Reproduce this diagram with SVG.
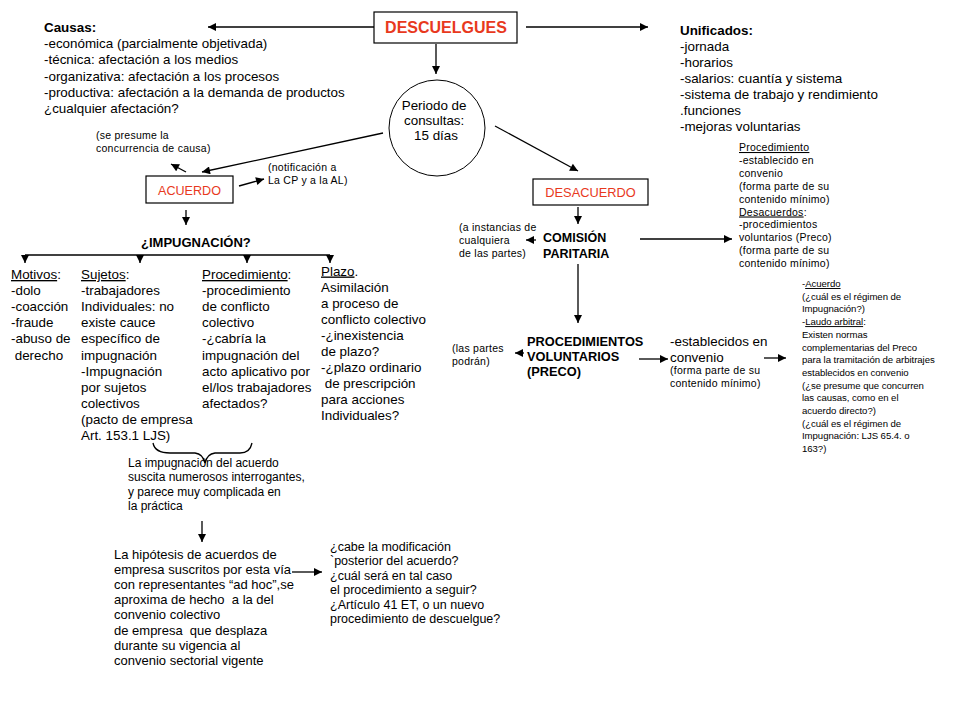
<svg xmlns="http://www.w3.org/2000/svg" width="960" height="720" viewBox="0 0 960 720">
<style>
text{font-family:"Liberation Sans",Arial,sans-serif;fill:#000}
.t{font-size:13.4px}
.s{font-size:10.5px;letter-spacing:0.25px}
.r{font-size:9.6px;letter-spacing:-0.05px}
.h{font-size:12px}
.q{font-size:12.5px}
.b{font-weight:bold}
.red{fill:#e8391d}
.u{text-decoration:underline}
.ln{stroke:#000;stroke-width:1.3;fill:none}
.bx{fill:#fff;stroke:#000;stroke-width:1.2}
</style>
<defs>
<marker id="ah" viewBox="0 0 10 10" refX="10" refY="5" markerWidth="9" markerHeight="8" markerUnits="userSpaceOnUse" orient="auto">
<path d="M0,0 L10,5 L0,10 z" fill="#000"/>
</marker>
</defs>
<rect width="960" height="720" fill="#fff"/>

<g id="connectors">
<line class="ln" x1="374" y1="27" x2="208" y2="27" marker-end="url(#ah)"/>
<line class="ln" x1="526" y1="27" x2="648" y2="27" marker-end="url(#ah)"/>
<line class="ln" x1="436" y1="44" x2="436" y2="74" marker-end="url(#ah)"/>
<line class="ln" x1="383" y1="133" x2="202" y2="172" marker-end="url(#ah)"/>
<line class="ln" x1="495" y1="126" x2="578" y2="171" marker-end="url(#ah)"/>
<line class="ln" x1="186" y1="172" x2="171" y2="164" marker-end="url(#ah)"/>
<line class="ln" x1="239" y1="186" x2="264" y2="179" marker-end="url(#ah)"/>
<line class="ln" x1="186" y1="210" x2="186" y2="225" marker-end="url(#ah)"/>
<line class="ln" x1="25" y1="255" x2="330" y2="255"/>
<line class="ln" x1="25" y1="255" x2="25" y2="263" marker-end="url(#ah)"/>
<line class="ln" x1="140" y1="255" x2="140" y2="263" marker-end="url(#ah)"/>
<line class="ln" x1="247" y1="255" x2="247" y2="263" marker-end="url(#ah)"/>
<line class="ln" x1="330" y1="255" x2="330" y2="263" marker-end="url(#ah)"/>
<line class="ln" x1="578" y1="207" x2="578" y2="224" marker-end="url(#ah)"/>
<line class="ln" x1="536" y1="240" x2="526" y2="240" marker-end="url(#ah)"/>
<line class="ln" x1="640" y1="239" x2="732" y2="239" marker-end="url(#ah)"/>
<line class="ln" x1="578" y1="264" x2="578" y2="323" marker-end="url(#ah)"/>
<line class="ln" x1="524" y1="353" x2="515" y2="353" marker-end="url(#ah)"/>
<line class="ln" x1="639" y1="359" x2="668" y2="359" marker-end="url(#ah)"/>
<line class="ln" x1="764" y1="358" x2="786" y2="358" marker-end="url(#ah)"/>
<path class="ln" d="M153,443 Q155,453 170,453 L195,453 Q203,454 205,463 Q207,454 215,453 L240,453 Q250,453 252,443" stroke-width="1.1"/>
<line class="ln" x1="202" y1="521" x2="202" y2="542" marker-end="url(#ah)"/>
<line class="ln" x1="292" y1="572" x2="322" y2="572" marker-end="url(#ah)"/>
</g>

<g id="descuelgues">
<rect class="bx" x="374" y="12" width="143" height="31"/>
<text x="446" y="33" text-anchor="middle" class="b red" font-size="16">DESCUELGUES</text>
</g>

<g id="causas">
<text class="t"><tspan class="b" x="44" y="32">Causas:</tspan>
<tspan x="44" y="48.2">-económica (parcialmente objetivada)</tspan>
<tspan x="44" y="64.4">-técnica: afectación a los medios</tspan>
<tspan x="44" y="80.6">-organizativa: afectación a los procesos</tspan>
<tspan x="44" y="96.8">-productiva: afectación a la demanda de productos</tspan>
<tspan x="44" y="113">¿cualquier afectación?</tspan></text>
</g>

<g id="unificados">
<text class="t"><tspan class="b" x="680" y="35">Unificados:</tspan>
<tspan x="680" y="51">-jornada</tspan>
<tspan x="680" y="67">-horarios</tspan>
<tspan x="680" y="83">-salarios: cuantía y sistema</tspan>
<tspan x="680" y="99">-sistema de trabajo y rendimiento</tspan>
<tspan x="680" y="115">.funciones</tspan>
<tspan x="680" y="131">-mejoras voluntarias</tspan></text>
</g>

<g id="periodo">
<circle cx="437" cy="128" r="48" fill="none" stroke="#000" stroke-width="1"/>
<text class="t" text-anchor="middle"><tspan x="436" y="110">Periodo de</tspan>
<tspan x="436" y="125">consultas:</tspan>
<tspan x="436" y="140">15 días</tspan></text>
</g>

<g id="acuerdo">
<rect class="bx" x="146" y="176" width="87" height="27"/>
<text x="189.5" y="194.5" text-anchor="middle" class="red" font-size="12.6">ACUERDO</text>
</g>

<g id="se-presume">
<text class="s"><tspan x="96" y="139">(se presume la</tspan>
<tspan x="96" y="152">concurrencia de causa)</tspan></text>
</g>

<g id="notificacion">
<text class="s"><tspan x="268" y="171">(notificación a</tspan>
<tspan x="268" y="184">La CP y a la AL)</tspan></text>
</g>

<g id="impugnacion">
<text x="141" y="247" class="b" font-size="13">¿IMPUGNACIÓN?</text>
</g>

<g id="motivos">
<text class="t"><tspan x="11" y="279"><tspan class="u">Motivos</tspan>:</tspan>
<tspan x="11" y="295.1">-dolo</tspan>
<tspan x="11" y="311.2">-coacción</tspan>
<tspan x="11" y="327.3">-fraude</tspan>
<tspan x="11" y="343.4">-abuso de</tspan>
<tspan x="11" y="359.5">&#160;derecho</tspan></text>
</g>

<g id="sujetos">
<text class="t"><tspan x="81" y="279"><tspan class="u">Sujetos</tspan>:</tspan>
<tspan x="81" y="295.1">-trabajadores</tspan>
<tspan x="81" y="311.2">Individuales: no</tspan>
<tspan x="81" y="327.3">existe cauce</tspan>
<tspan x="81" y="343.4">específico de</tspan>
<tspan x="81" y="359.5">impugnación</tspan>
<tspan x="81" y="375.6">-Impugnación</tspan>
<tspan x="81" y="391.7">por sujetos</tspan>
<tspan x="81" y="407.8">colectivos</tspan>
<tspan x="81" y="423.9">(pacto de empresa</tspan>
<tspan x="81" y="440">Art. 153.1 LJS)</tspan></text>
</g>

<g id="procedimiento">
<text class="t"><tspan x="202" y="279"><tspan class="u">Procedimiento</tspan>:</tspan>
<tspan x="202" y="295.1">-procedimiento</tspan>
<tspan x="202" y="311.2">de conflicto</tspan>
<tspan x="202" y="327.3">colectivo</tspan>
<tspan x="202" y="343.4">-¿cabría la</tspan>
<tspan x="202" y="359.5">impugnación del</tspan>
<tspan x="202" y="375.6">acto aplicativo por</tspan>
<tspan x="202" y="391.7">el/los trabajadores</tspan>
<tspan x="202" y="407.8">afectados?</tspan></text>
</g>

<g id="plazo">
<text class="t"><tspan x="321" y="275.5"><tspan class="u">Plazo</tspan>.</tspan>
<tspan x="321" y="291.6">Asimilación</tspan>
<tspan x="321" y="307.7">a proceso de</tspan>
<tspan x="321" y="323.8">conflicto colectivo</tspan>
<tspan x="321" y="339.9">-¿inexistencia</tspan>
<tspan x="321" y="356">de plazo?</tspan>
<tspan x="321" y="372.1">-¿plazo ordinario</tspan>
<tspan x="321" y="388.2">&#160;de prescripción</tspan>
<tspan x="321" y="404.3">para acciones</tspan>
<tspan x="321" y="420.4">Individuales?</tspan></text>
</g>

<g id="impugnacion-nota">
<text class="h"><tspan x="128" y="467">La impugnación del acuerdo</tspan>
<tspan x="128" y="481.3">suscita numerosos interrogantes,</tspan>
<tspan x="128" y="495.6">y parece muy complicada en</tspan>
<tspan x="128" y="510">la práctica</tspan></text>
</g>

<g id="hipotesis">
<text font-size="13"><tspan x="114" y="559">La hipótesis de acuerdos de</tspan>
<tspan x="114" y="574.1">empresa suscritos por esta vía</tspan>
<tspan x="114" y="589.2">con representantes “ad hoc”,se</tspan>
<tspan x="114" y="604.3">aproxima de hecho &#160;a la del</tspan>
<tspan x="114" y="619.4">convenio colectivo</tspan>
<tspan x="114" y="634.5">de empresa &#160;que desplaza</tspan>
<tspan x="114" y="649.6">durante su vigencia al</tspan>
<tspan x="114" y="664.7">convenio sectorial vigente</tspan></text>
</g>

<g id="cabe">
<text class="q"><tspan x="330" y="551">¿cabe la modificación</tspan>
<tspan x="330" y="565.4">`posterior del acuerdo?</tspan>
<tspan x="330" y="579.8">¿cuál será en tal caso</tspan>
<tspan x="330" y="594.2">el procedimiento a seguir?</tspan>
<tspan x="330" y="608.6">¿Artículo 41 ET, o un nuevo</tspan>
<tspan x="330" y="623">procedimiento de descuelgue?</tspan></text>
</g>

<g id="desacuerdo">
<rect class="bx" x="533" y="179" width="115" height="26"/>
<text x="590.5" y="196.5" text-anchor="middle" class="red" font-size="12.8">DESACUERDO</text>
</g>

<g id="comision">
<text class="b" font-size="12.5"><tspan x="543" y="242">COMISIÓN</tspan>
<tspan x="543" y="258">PARITARIA</tspan></text>
</g>

<g id="instancias">
<text class="s" font-size="10.3"><tspan x="459" y="231">(a instancias de</tspan>
<tspan x="459" y="244">cualquiera</tspan>
<tspan x="459" y="257">de las partes)</tspan></text>
</g>

<g id="proc-convenio">
<text class="s"><tspan x="739" y="151" class="u">Procedimiento</tspan>
<tspan x="739" y="163.9">-establecido en</tspan>
<tspan x="739" y="176.8">convenio</tspan>
<tspan x="739" y="189.7">(forma parte de su</tspan>
<tspan x="739" y="202.6">contenido mínimo)</tspan>
<tspan x="739" y="215.5"><tspan class="u">Desacuerdos</tspan>:</tspan>
<tspan x="739" y="228.4">-procedimientos</tspan>
<tspan x="739" y="241.3">voluntarios (Preco)</tspan>
<tspan x="739" y="254.2">(forma parte de su</tspan>
<tspan x="739" y="267.1">contenido mínimo)</tspan></text>
</g>

<g id="preco">
<text class="b" font-size="12.8"><tspan x="527" y="346">PROCEDIMIENTOS</tspan>
<tspan x="527" y="361">VOLUNTARIOS</tspan>
<tspan x="527" y="376">(PRECO)</tspan></text>
</g>

<g id="las-partes">
<text class="s"><tspan x="452" y="352">(las partes</tspan>
<tspan x="452" y="365">podrán)</tspan></text>
</g>

<g id="establecidos">
<text class="t"><tspan x="670" y="346">-establecidos en</tspan>
<tspan x="670" y="362">convenio</tspan></text>
<text class="s"><tspan x="670" y="374">(forma parte de su</tspan>
<tspan x="670" y="387">contenido mínimo)</tspan></text>
</g>

<g id="acuerdo-laudo">
<text class="r"><tspan x="802" y="287">-<tspan class="u">Acuerdo</tspan></tspan>
<tspan x="802" y="299.7">(¿cuál es el régimen de</tspan>
<tspan x="802" y="312.4">Impugnación?)</tspan>
<tspan x="802" y="325.1">-<tspan class="u">Laudo arbitral</tspan>:</tspan>
<tspan x="802" y="337.8">Existen normas</tspan>
<tspan x="802" y="350.5">complementarias del Preco</tspan>
<tspan x="802" y="363.2">para la tramitación de arbitrajes</tspan>
<tspan x="802" y="375.9">establecidos en convenio</tspan>
<tspan x="802" y="388.6">(¿se presume que concurren</tspan>
<tspan x="802" y="401.3">las causas, como en el</tspan>
<tspan x="802" y="414">acuerdo directo?)</tspan>
<tspan x="802" y="426.7">(¿cuál es el régimen de</tspan>
<tspan x="802" y="439.4">Impugnación: LJS 65.4. o</tspan>
<tspan x="802" y="452.1">163?)</tspan></text>
</g>
</svg>
